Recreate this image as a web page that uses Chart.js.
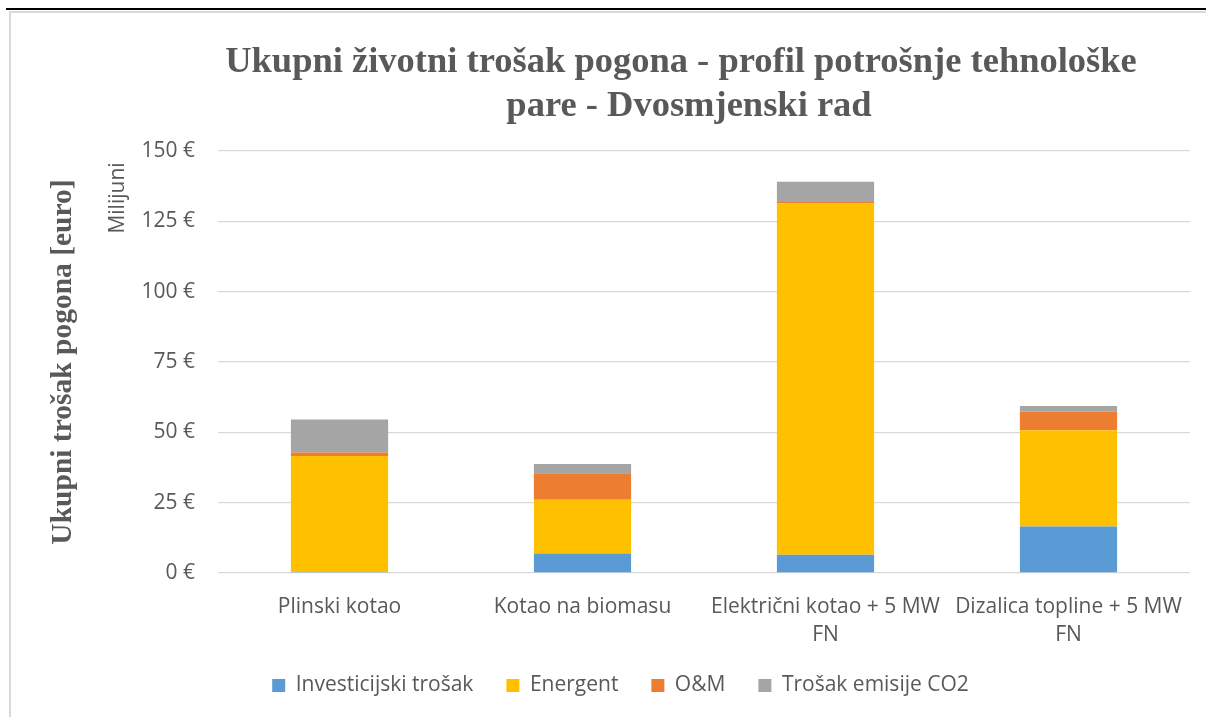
<!DOCTYPE html>
<html>
<head>
<meta charset="utf-8">
<script src="https://cdn.jsdelivr.net/npm/chart.js@4.4.1/dist/chart.umd.min.js"></script>
<style>
  html, body { margin: 0; padding: 0; background: #fff; width: 1206px; height: 717px; overflow: hidden; }
  #rule { position: absolute; left: 6px; top: 8px; width: 1200px; height: 2px; background: #000; }
  #frame { position: absolute; left: 9px; top: 11px; width: 1200px; height: 710px;
           border-left: 2px solid #d9d9d9; border-top: 2px solid #d9d9d9; }
  #wrap { position: absolute; left: 11px; top: 12px; width: 1195px; height: 705px; }
</style>
</head>
<body>
<div id="rule"></div>
<div id="frame"></div>
<div id="wrap"><canvas id="chart" width="1195" height="705"></canvas></div>
<script>
// Categories (x axis), multi-line where the reference wraps
const categories = [
    ['Plinski kotao'],
    ['Kotao na biomasu'],
    ['Električni kotao + 5 MW', 'FN'],
    ['Dizalica topline + 5 MW', 'FN']
];

// Series values, millions of euro
const investicijski = [0.4, 6.9, 6.5, 16.5];
const energent      = [41.2, 19.1, 124.8, 34.2];
const om            = [1.2, 9.5, 0.6, 6.6];
const co2           = [11.8, 3.2, 7.2, 2.1];

const seriesNames = ['Investicijski trošak', 'Energent', 'O&M', 'Trošak emisije CO2'];
const seriesColors = ['#5B9BD5', '#FFC000', '#ED7D31', '#A5A5A5'];

// Y axis
const yMin = 0;
const yMax = 150;
const yStep = 25;

const titleLines = ['Ukupni životni trošak pogona - profil potrošnje tehnološke', 'pare - Dvosmjenski rad'];
const yTitle = 'Ukupni trošak pogona [euro]';
const yUnit = 'Milijuni';

const grey = '#595959';
const sansFont = '"Open Sans"';
const sansSize = 21;

// titles drawn by hand: Excel centers the title on the whole chart area, and has two axis titles
const decor = {
    id: 'decor',
    afterDraw(chart) {
        const ctx = chart.ctx;
        ctx.save();
        ctx.fillStyle = grey;
        ctx.textAlign = 'center';
        ctx.textBaseline = 'alphabetic';
        ctx.font = 'bold 36.5px "Liberation Serif"';
        ctx.fillText(titleLines[0], 670, 60);
        ctx.fillText(titleLines[1], 678, 104);

        ctx.textBaseline = 'middle';
        ctx.translate(52, 350);
        ctx.rotate(-Math.PI / 2);
        ctx.font = 'bold 29.5px "Liberation Serif"';
        ctx.fillText(yTitle, 0, 0);
        ctx.restore();

        ctx.save();
        ctx.fillStyle = grey;
        ctx.textAlign = 'center';
        ctx.textBaseline = 'middle';
        ctx.translate(107, 186);
        ctx.rotate(-Math.PI / 2);
        ctx.font = sansSize + 'px ' + sansFont;
        ctx.fillText(yUnit, 0, 0);
        ctx.restore();
    }
};

const datasets = [investicijski, energent, om, co2].map((vals, i) => ({
    label: seriesNames[i],
    data: vals,
    backgroundColor: seriesColors[i],
    borderWidth: 0,
    categoryPercentage: 1.0,
    barPercentage: 0.4
}));

new Chart(document.getElementById('chart'), {
    type: 'bar',
    data: { labels: categories, datasets: datasets },
    plugins: [decor],
    options: {
        responsive: false,
        animation: false,
        layout: { padding: { top: 139, right: 16, bottom: 11, left: 40 } },
        plugins: {
            title: { display: false },
            tooltip: { enabled: false },
            legend: {
                position: 'bottom',
                labels: {
                    boxWidth: 13,
                    boxHeight: 13,
                    padding: 33,
                    color: grey,
                    font: { family: sansFont, size: sansSize }
                }
            }
        },
        scales: {
            x: {
                stacked: true,
                grid: { display: false },
                border: { display: false },
                ticks: {
                    color: grey,
                    font: { family: sansFont, size: sansSize, lineHeight: 1.33 },
                    maxRotation: 0,
                    autoSkip: false,
                    padding: 12
                },
                afterFit: s => { s.height = 69; }
            },
            y: {
                stacked: true,
                min: yMin,
                max: yMax,
                grid: { color: '#d9d9d9', lineWidth: 1.3, drawTicks: false },
                border: { display: false },
                ticks: {
                    stepSize: yStep,
                    color: grey,
                    font: { family: sansFont, size: sansSize },
                    padding: 23,
                    callback: v => v + ' €'
                },
                afterFit: s => { s.width = 167; }
            }
        }
    }
});
</script>
</body>
</html>
